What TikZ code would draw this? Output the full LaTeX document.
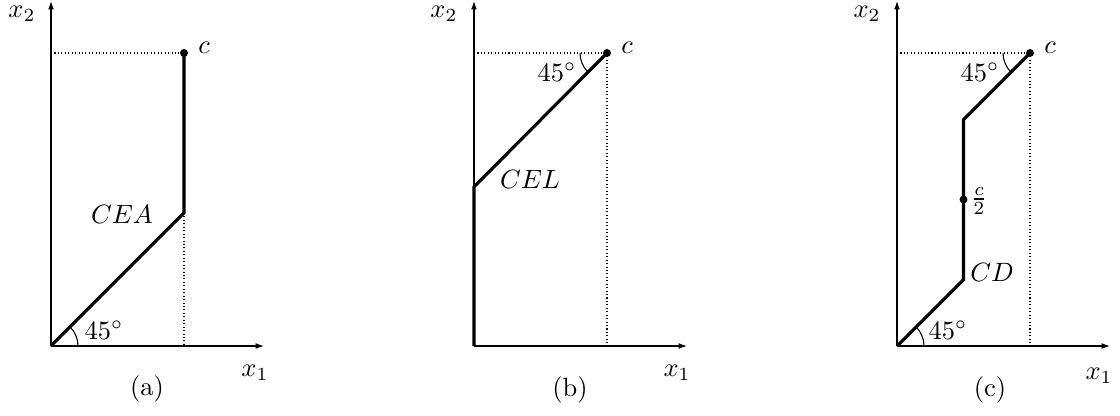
\documentclass[tikz,border=0pt]{standalone}
\usetikzlibrary{arrows.meta}
\begin{document}
\begin{tikzpicture}[x=0.3775pt,y=-0.3775pt,
  axis/.style={line width=0.4pt,-{Latex[length=3.2pt,width=2.2pt]}},
  guide/.style={line width=0.4pt,dash pattern=on 0.4pt off 0.9pt},
  curve/.style={line width=1.2pt,line join=miter},
  anglearc/.style={line width=0.4pt},
  lbl/.style={inner sep=0pt}]
\useasboundingbox (0,0) rectangle (1120,416);
% ---------- panel (a)
\coordinate (Oa) at (51,346);
\coordinate (Xa) at (264,346);
\coordinate (Ya) at (51,1);
\coordinate (Ka) at (184,213);
\coordinate (Ca) at (184,53);
\coordinate (Ha) at (51,53);
\coordinate (Fa) at (184,346);
\draw[axis] (Oa) -- (Xa);
\draw[axis] (Oa) -- (Ya);
\draw[guide] (Ha) -- (Ca);
\draw[guide] (Ka) -- (Fa);
\draw[curve] (Oa) -- (Ka) -- (Ca);
\fill (Ca) circle[radius=1.5pt];
\draw[anglearc] ([shift={(27,0)}]Oa) arc[start angle=0,end angle=-45,radius=27];
\node[lbl] (ca) at (204,48) {$c$};
\node[lbl] (cea) at (122,214) {$CEA$};
\node[lbl] (anga) at (104,330) {$45^\circ$};
\node[lbl] (x2a) at (22,14) {$x_2$};
\node[lbl] (x1a) at (255,373) {$x_1$};
\node[lbl] (capa) at (147,389) {(a)};
% ---------- panel (b)
\coordinate (Ob) at (474,346);
\coordinate (Xb) at (687,346);
\coordinate (Yb) at (474,1);
\coordinate (Kb) at (474,187);
\coordinate (Cb) at (607,53);
\coordinate (Hb) at (474,53);
\coordinate (Fb) at (607,346);
\draw[axis] (Ob) -- (Xb);
\draw[axis] (Ob) -- (Yb);
\draw[guide] (Hb) -- (Cb);
\draw[guide] (Cb) -- (Fb);
\draw[curve] (Ob) -- (Kb) -- (Cb);
\fill (Cb) circle[radius=1.5pt];
\draw[anglearc] ([shift={(-27,0)}]Cb) arc[start angle=180,end angle=135,radius=27];
\node[lbl] (cb) at (627,48) {$c$};
\node[lbl] (cel) at (530,179) {$CEL$};
\node[lbl] (angb) at (557,72) {$45^\circ$};
\node[lbl] (x2b) at (444,14) {$x_2$};
\node[lbl] (x1b) at (677,373) {$x_1$};
\node[lbl] (capb) at (570,390) {(b)};
% ---------- panel (c)
\coordinate (Oc) at (897,346);
\coordinate (Xc) at (1110,346);
\coordinate (Yc) at (897,1);
\coordinate (K1c) at (963.5,279.5);
\coordinate (K2c) at (963.5,119.5);
\coordinate (Cc) at (1030,53);
\coordinate (Hc) at (897,53);
\coordinate (Fc) at (1030,346);
\coordinate (Mc) at (963.5,199.5);
\draw[axis] (Oc) -- (Xc);
\draw[axis] (Oc) -- (Yc);
\draw[guide] (Hc) -- (Cc);
\draw[guide] (Cc) -- (Fc);
\draw[curve] (Oc) -- (K1c) -- (K2c) -- (Cc);
\fill (Cc) circle[radius=1.5pt];
\fill (Mc) circle[radius=1.5pt];
\draw[anglearc] ([shift={(27,0)}]Oc) arc[start angle=0,end angle=-45,radius=27];
\draw[anglearc] ([shift={(-27,0)}]Cc) arc[start angle=180,end angle=135,radius=27];
\node[lbl] (cc) at (1050,48) {$c$};
\node[lbl] (half) at (979,201) {$\frac{c}{2}$};
\node[lbl] (cd) at (992,272) {$CD$};
\node[lbl] (angc1) at (948,330) {$45^\circ$};
\node[lbl] (angc2) at (980,72) {$45^\circ$};
\node[lbl] (x2c) at (867,14) {$x_2$};
\node[lbl] (x1c) at (1099,376) {$x_1$};
\node[lbl] (capc) at (990,390) {(c)};
\end{tikzpicture}
\end{document}
